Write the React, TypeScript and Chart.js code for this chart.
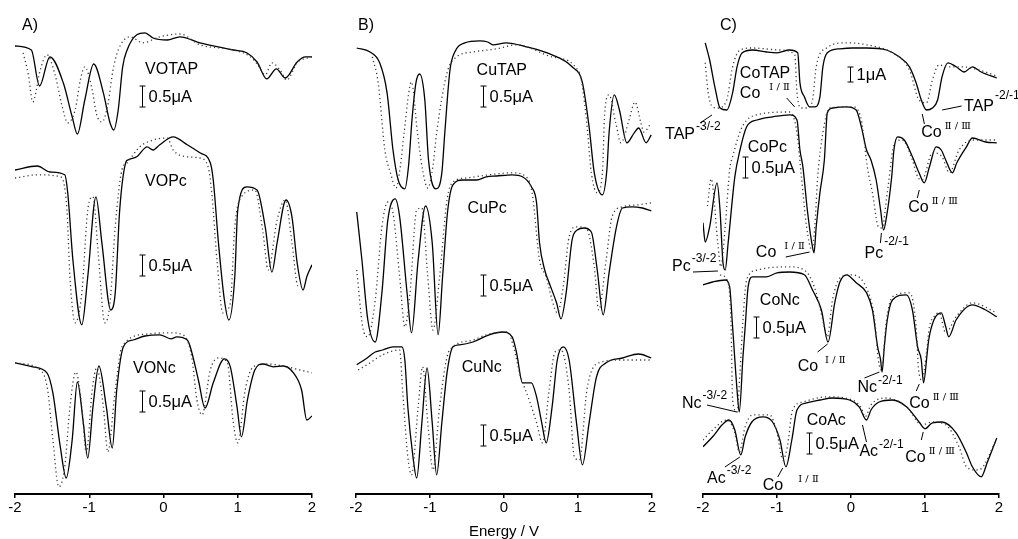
import React, { useEffect, useRef } from "react";
import { Chart, registerables } from "chart.js";

Chart.register(...registerables);

// ---------- Panel A (VO complexes) ----------
const VOTAP_E = [-2.00,-1.78,-1.67,-1.53,-1.35,-1.23,-1.16,-1.06,-0.94,-0.81,-0.72,-0.67,-0.61,-0.55,-0.49,-0.36,-0.25,-0.14,0.05,0.22,0.49,0.94,1.12,1.26,1.39,1.52,1.64,1.80,1.91,2.00];
const VOTAP_I = [11.20,11.10,10.20,10.93,10.28,9.43,9.00,9.85,10.75,10.03,9.28,9.10,9.60,10.68,11.10,11.48,11.53,11.40,11.35,11.43,11.28,11.10,11.03,10.80,10.38,10.63,10.40,10.80,10.93,10.93];
const VOTAP_E_DOT = [-1.89,-1.82,-1.76,-1.66,-1.57,-1.46,-1.37,-1.29,-1.19,-1.12,-1.06,-0.96,-0.90,-0.83,-0.75,-0.68,-0.61,-0.45,-0.28,-0.05,0.22,0.49,0.94,1.17,1.27,1.37,1.46,1.57,1.66,1.80,2.00];
const VOTAP_I_DOT = [11.03,10.48,9.80,10.60,10.98,10.48,9.73,9.28,9.60,10.35,10.68,10.10,9.48,9.30,9.73,10.60,11.10,11.43,11.28,11.43,11.50,11.23,11.10,10.93,10.73,10.48,10.78,10.60,10.35,10.78,10.93];

const VOPC_E = [-2.00,-1.70,-1.53,-1.33,-1.29,-1.22,-1.10,-1.02,-0.91,-0.83,-0.71,-0.65,-0.59,-0.51,-0.48,-0.36,-0.22,-0.14,-0.05,0.13,0.32,0.49,0.63,0.67,0.74,0.82,0.88,0.96,1.00,1.12,1.26,1.37,1.46,1.53,1.65,1.73,1.80,1.88,1.93,2.00];
const VOPC_I = [8.10,8.20,8.05,7.98,7.53,5.85,4.23,5.43,7.43,6.28,4.60,5.03,7.10,8.28,8.35,8.43,8.68,8.60,8.73,8.93,8.73,8.53,8.28,7.85,6.28,4.85,4.35,5.43,7.10,7.68,7.60,6.68,5.55,6.28,7.35,6.93,5.78,5.10,5.43,5.73];
const VOPC_E_DOT = [-2.00,-1.70,-1.39,-1.30,-1.26,-1.19,-1.10,-1.02,-0.95,-0.88,-0.79,-0.72,-0.65,-0.56,-0.49,-0.32,-0.14,0.05,0.13,0.32,0.49,0.60,0.65,0.72,0.80,0.90,0.96,1.05,1.23,1.34,1.41,1.53,1.64,1.73,1.81,1.88];
const VOPC_I_DOT = [7.90,7.98,7.93,7.10,5.43,4.28,5.03,7.10,7.43,6.03,4.28,4.78,6.68,8.10,8.28,8.68,8.85,8.90,8.60,8.43,8.40,8.18,7.53,5.85,4.53,4.78,6.68,7.43,7.60,6.53,5.60,6.85,7.35,6.28,5.20,5.18];

const VONC_E = [-2.00,-1.76,-1.57,-1.49,-1.39,-1.31,-1.23,-1.16,-1.08,-1.02,-0.95,-0.87,-0.77,-0.69,-0.63,-0.54,-0.41,-0.25,-0.05,0.10,0.18,0.32,0.36,0.47,0.56,0.67,0.82,0.90,0.99,1.05,1.13,1.23,1.34,1.48,1.61,1.75,1.86,1.93,2.00];
const VONC_I = [3.28,3.18,3.03,2.53,1.18,0.40,1.35,2.80,1.78,0.90,2.18,3.20,2.18,1.15,2.60,3.68,3.85,3.95,3.98,3.88,3.93,3.85,3.68,2.85,2.15,2.78,3.38,3.18,2.18,1.43,2.35,3.10,3.25,3.18,3.20,3.03,2.60,1.85,1.95];
const VONC_E_DOT = [-2.00,-1.66,-1.56,-1.49,-1.41,-1.33,-1.26,-1.18,-1.10,-1.04,-0.96,-0.90,-0.81,-0.75,-0.65,-0.56,-0.22,0.09,0.26,0.38,0.45,0.52,0.63,0.74,0.86,0.94,1.00,1.10,1.21,1.39,1.66,1.84,2.00];
const VONC_I_DOT = [3.28,3.10,2.60,1.35,0.18,0.68,2.18,3.05,2.18,1.03,2.60,3.15,2.18,1.05,2.60,3.68,4.00,4.03,3.98,3.43,2.35,1.98,3.10,3.40,3.28,1.78,1.28,2.60,3.18,3.25,3.18,3.10,3.03];

// ---------- Panel B (Cu complexes) ----------
const CUTAP_E = [-1.99,-1.81,-1.68,-1.58,-1.50,-1.43,-1.34,-1.29,-1.24,-1.19,-1.14,-1.07,-1.02,-0.92,-0.84,-0.80,-0.73,-0.67,-0.53,-0.33,-0.22,-0.15,0.03,0.30,0.65,0.92,1.06,1.15,1.22,1.33,1.39,1.42,1.49,1.56,1.66,1.76,1.82,1.92,1.99];
const CUTAP_I = [11.15,11.05,10.78,10.03,8.60,7.85,7.63,8.20,9.43,10.28,10.50,9.85,8.35,7.63,8.03,9.03,10.60,11.03,11.28,11.33,11.30,11.23,11.28,11.18,10.98,10.68,10.28,9.18,8.03,7.48,8.10,9.03,9.98,9.60,8.78,9.03,9.15,8.78,8.98];
const CUTAP_E_DOT = [-1.78,-1.70,-1.61,-1.53,-1.46,-1.40,-1.35,-1.25,-1.17,-1.10,-1.03,-0.96,-0.91,-0.77,-0.64,-0.42,-0.10,0.17,0.65,1.02,1.11,1.18,1.26,1.33,1.36,1.42,1.51,1.58,1.69,1.77,1.85,1.89,1.99];
const CUTAP_I_DOT = [10.93,10.28,8.60,8.00,7.65,8.20,9.03,10.30,9.03,8.10,7.65,8.20,9.03,10.53,10.93,11.05,11.13,11.23,10.93,10.53,9.43,8.03,7.53,8.03,9.50,9.98,9.28,8.78,9.35,9.80,9.28,9.05,9.28];

const CUPC_E = [-1.99,-1.92,-1.84,-1.74,-1.65,-1.57,-1.47,-1.41,-1.31,-1.25,-1.16,-1.06,-0.97,-0.89,-0.83,-0.76,-0.69,-0.56,-0.37,-0.24,-0.10,0.11,0.25,0.37,0.44,0.48,0.55,0.61,0.71,0.77,0.84,0.92,0.99,1.08,1.18,1.26,1.34,1.42,1.52,1.60,1.73,1.87,1.99];
const CUPC_I = [7.05,5.85,4.35,3.80,5.03,6.85,7.38,6.93,5.03,4.03,5.85,7.20,6.28,3.98,5.43,7.10,7.73,7.85,7.85,7.93,7.95,7.98,7.93,7.68,7.28,6.28,5.60,5.28,4.78,4.38,5.03,6.35,6.60,6.65,6.55,5.60,4.48,5.53,6.68,7.15,7.18,7.15,7.08];
const CUPC_E_DOT = [-1.99,-1.91,-1.84,-1.74,-1.65,-1.57,-1.50,-1.41,-1.34,-1.27,-1.18,-1.11,-1.03,-0.96,-0.87,-0.77,-0.69,-0.51,-0.20,0.11,0.30,0.38,0.48,0.57,0.65,0.72,0.80,0.88,0.98,1.11,1.22,1.28,1.38,1.46,1.60,1.82,1.99];
const CUPC_I_DOT = [5.60,4.18,3.93,4.85,6.68,7.30,7.03,5.43,4.18,5.03,7.10,7.15,5.43,4.10,5.43,7.35,7.80,7.90,7.98,8.03,7.93,7.53,5.85,5.43,4.85,4.53,5.18,6.43,6.68,6.65,5.68,4.60,5.85,6.93,7.18,7.23,7.28];

const CUNC_E = [-1.99,-1.85,-1.74,-1.64,-1.50,-1.38,-1.34,-1.30,-1.23,-1.18,-1.11,-1.04,-0.97,-0.91,-0.84,-0.77,-0.69,-0.60,-0.42,-0.20,-0.02,0.11,0.17,0.25,0.37,0.44,0.51,0.57,0.65,0.72,0.80,0.88,0.98,1.06,1.15,1.25,1.38,1.60,1.82,1.99];
const CUNC_I = [3.23,3.40,3.55,3.60,3.68,3.68,3.35,2.18,0.93,0.40,1.78,3.15,1.78,0.48,1.78,3.03,3.68,3.73,3.80,3.98,4.05,3.93,3.53,2.78,2.78,2.43,1.78,1.28,2.18,3.35,3.68,3.35,1.78,0.73,1.78,2.93,3.28,3.40,3.50,3.40];
const CUNC_E_DOT = [-1.97,-1.81,-1.64,-1.41,-1.37,-1.30,-1.25,-1.16,-1.10,-1.03,-0.96,-0.87,-0.77,-0.69,-0.42,-0.20,0.05,0.14,0.21,0.34,0.44,0.52,0.61,0.69,0.77,0.88,0.95,1.02,1.12,1.28,1.60,1.99];
const CUNC_I_DOT = [3.10,3.28,3.48,3.60,2.60,0.93,0.48,2.18,3.18,1.78,0.60,2.18,3.43,3.68,3.85,4.00,4.05,3.60,3.03,2.35,1.78,1.28,2.60,3.55,3.60,2.60,0.93,0.85,2.60,3.28,3.35,3.35];

// ---------- Panel C (Co complexes) ----------
const COTAP_E = [-1.97,-1.91,-1.84,-1.77,-1.68,-1.60,-1.54,-1.47,-1.33,-1.14,-1.00,-0.83,-0.72,-0.69,-0.63,-0.56,-0.49,-0.42,-0.38,-0.32,-0.15,0.02,0.21,0.48,0.65,0.79,0.88,0.95,1.02,1.10,1.17,1.23,1.31,1.42,1.53,1.64,1.76,1.97];
const COTAP_I = [11.28,10.85,10.18,9.65,9.60,10.03,10.68,11.03,11.10,11.05,11.03,11.10,11.03,10.28,9.93,9.68,9.68,9.93,10.68,11.03,11.13,11.15,11.15,11.10,10.93,10.68,10.28,9.85,9.60,9.65,9.85,10.43,10.78,10.68,10.55,10.68,10.55,10.40];
const COTAP_E_DOT = [-1.97,-1.93,-1.87,-1.80,-1.68,-1.60,-1.50,-1.33,-0.96,-0.76,-0.73,-0.67,-0.59,-0.52,-0.47,-0.33,-0.06,0.21,0.56,0.79,0.92,1.02,1.10,1.19,1.28,1.50,1.73,1.97];
const COTAP_I_DOT = [10.78,10.03,9.68,9.65,9.85,10.68,11.10,11.15,11.10,10.98,10.03,9.65,9.65,9.85,10.68,11.15,11.28,11.23,11.03,10.60,9.85,9.78,10.35,10.73,10.68,10.68,10.60,10.45];

const COPC_E = [-2.00,-1.97,-1.91,-1.81,-1.77,-1.73,-1.70,-1.66,-1.57,-1.50,-1.41,-1.27,-1.06,-0.83,-0.73,-0.69,-0.65,-0.59,-0.53,-0.50,-0.47,-0.42,-0.36,-0.32,-0.25,-0.06,0.07,0.14,0.21,0.27,0.34,0.40,0.44,0.48,0.55,0.58,0.63,0.72,0.83,0.92,0.99,1.06,1.15,1.22,1.28,1.37,1.43,1.56,1.64,1.82,1.97];
const COPC_I = [6.78,6.30,6.68,7.78,7.10,5.78,5.60,6.28,7.93,8.60,9.18,9.35,9.43,9.48,9.35,8.60,8.18,7.10,6.28,6.03,6.68,7.53,8.35,9.53,9.65,9.68,9.60,9.18,8.60,8.35,7.85,7.10,6.60,6.93,7.93,8.60,8.93,8.85,8.43,8.03,7.78,8.18,8.68,8.60,8.35,8.03,8.28,8.68,8.90,8.80,8.78];
const COPC_E_DOT = [-1.94,-1.89,-1.80,-1.76,-1.70,-1.64,-1.60,-1.47,-1.27,-0.83,-0.73,-0.67,-0.60,-0.53,-0.49,-0.45,-0.38,-0.29,0.02,0.14,0.22,0.29,0.37,0.42,0.49,0.59,0.69,0.83,0.90,0.96,1.10,1.23,1.33,1.46,1.64,1.97];
const COPC_I_DOT = [7.20,7.88,6.28,5.68,6.68,8.10,8.43,9.18,9.48,9.55,9.03,7.93,6.68,6.10,6.68,7.93,9.03,9.65,9.68,9.35,8.18,7.53,6.68,6.65,7.53,8.78,8.85,8.35,7.93,7.85,8.53,8.43,8.03,8.60,8.85,8.85];

const CONC_E = [-2.00,-1.87,-1.70,-1.64,-1.60,-1.54,-1.51,-1.46,-1.43,-1.39,-1.33,-1.14,-1.00,-0.83,-0.63,-0.52,-0.40,-0.31,-0.22,-0.15,-0.06,0.07,0.21,0.29,0.36,0.40,0.42,0.45,0.49,0.56,0.75,0.83,0.90,0.95,0.98,1.03,1.05,1.12,1.22,1.28,1.32,1.42,1.64,1.82,1.97];
const CONC_I = [5.23,5.30,5.35,5.18,4.18,2.60,2.05,3.43,4.18,5.18,5.43,5.43,5.53,5.55,5.48,5.10,4.60,3.80,4.78,5.30,5.48,5.28,5.03,4.60,3.68,3.35,3.05,3.68,4.35,4.85,4.98,4.60,3.68,3.35,2.78,3.53,3.85,4.35,4.53,4.18,3.93,4.35,4.73,4.60,4.43];
const CONC_E_DOT = [-1.77,-1.66,-1.62,-1.60,-1.54,-1.50,-1.46,-1.41,-1.27,-0.83,-0.60,-0.47,-0.36,-0.32,-0.25,-0.15,-0.02,0.21,0.32,0.37,0.41,0.48,0.56,0.79,0.88,0.91,0.96,1.02,1.06,1.12,1.19,1.28,1.42,1.64,1.97];
const CONC_I_DOT = [5.48,5.28,4.18,2.35,2.05,3.03,4.35,5.35,5.60,5.68,5.55,5.03,4.18,3.93,4.85,5.40,5.48,5.15,4.35,3.35,3.10,4.35,4.93,5.03,4.18,3.18,2.85,3.53,4.18,4.43,4.53,4.03,4.43,4.78,4.53];

const COAC_E = [-2.00,-1.87,-1.74,-1.65,-1.57,-1.49,-1.43,-1.34,-1.19,-1.06,-0.96,-0.88,-0.80,-0.73,-0.60,-0.42,-0.25,-0.02,0.11,0.21,0.27,0.38,0.56,0.75,0.92,1.00,1.10,1.23,1.42,1.56,1.64,1.76,1.84,1.97];
const COAC_I = [1.18,1.43,1.73,1.85,1.60,0.98,1.43,1.80,1.93,1.80,1.35,0.68,1.35,2.10,2.28,2.35,2.40,2.35,2.18,1.85,2.10,2.30,2.35,2.18,1.80,1.63,1.78,1.80,1.53,1.03,0.68,0.43,0.78,1.40];
const COAC_E_DOT = [-2.00,-1.87,-1.68,-1.57,-1.51,-1.43,-1.33,-1.10,-1.00,-0.92,-0.86,-0.79,-0.65,-0.33,0.02,0.14,0.19,0.27,0.48,0.75,0.96,1.10,1.28,1.46,1.56,1.69,1.77,1.96];
const COAC_I_DOT = [1.35,1.60,1.85,1.53,1.05,1.68,1.98,1.98,1.53,0.85,1.18,2.10,2.30,2.43,2.35,2.15,1.93,2.23,2.40,2.18,1.73,1.80,1.73,1.18,0.68,0.60,0.65,1.35];

const X_TICKS = [-2, -1, 0, 1, 2];

// ---------- annotation layout ----------
const SANS = '"Liberation Sans", Arial, Helvetica, sans-serif';
const ROMAN = '"DejaVu Serif", "Liberation Serif", serif';
const R12 = "\u2160 / \u2161";
const R23 = "\u2161 / \u2162";

type Txt = { x: number; y: number; t: string; sup?: string; roman?: boolean; gap?: number; dy?: number };
type Bar = { x: number; y1: number; y2: number; label: string };
type Seg = [number, number, number, number];
type Series = [number[], number[], boolean];
interface Panel {
  left: number; width: number; padL: number; padR: number;
  series: Series[]; texts: Txt[]; bars: Bar[]; lines: Seg[]; xTitle?: string;
}

const PANELS: Panel[] = [
  {
    left: 0, width: 340, padL: 15, padR: 28,
    series: [
      [VOTAP_E_DOT, VOTAP_I_DOT, true], [VOTAP_E, VOTAP_I, false],
      [VOPC_E_DOT, VOPC_I_DOT, true], [VOPC_E, VOPC_I, false],
      [VONC_E_DOT, VONC_I_DOT, true], [VONC_E, VONC_I, false],
    ],
    texts: [
      { x: -1.906, y: 11.70, t: "A)" },
      { x: -0.249, y: 10.60, t: "VOTAP" },
      { x: -0.249, y: 7.80, t: "VOPc" },
      { x: -0.411, y: 3.125, t: "VONc" },
    ],
    bars: [
      { x: -0.29, y1: 10.20, y2: 9.675, label: "0.5\u03bcA" },
      { x: -0.29, y1: 5.975, y2: 5.45, label: "0.5\u03bcA" },
      { x: -0.29, y1: 2.575, y2: 2.05, label: "0.5\u03bcA" },
    ],
    lines: [],
  },
  {
    left: 340, width: 340, padL: 16, padR: 28, xTitle: "Energy / V",
    series: [
      [CUTAP_E_DOT, CUTAP_I_DOT, true], [CUTAP_E, CUTAP_I, false],
      [CUPC_E_DOT, CUPC_I_DOT, true], [CUPC_E, CUPC_I, false],
      [CUNC_E_DOT, CUNC_I_DOT, true], [CUNC_E, CUNC_I, false],
    ],
    texts: [
      { x: -1.973, y: 11.70, t: "B)" },
      { x: -0.370, y: 10.575, t: "CuTAP" },
      { x: -0.492, y: 7.125, t: "CuPc" },
      { x: -0.572, y: 3.15, t: "CuNc" },
    ],
    bars: [
      { x: -0.29, y1: 10.20, y2: 9.675, label: "0.5\u03bcA" },
      { x: -0.29, y1: 5.475, y2: 4.95, label: "0.5\u03bcA" },
      { x: -0.29, y1: 1.725, y2: 1.20, label: "0.5\u03bcA" },
    ],
    lines: [],
  },
  {
    left: 655, width: 363, padL: 48, padR: 19,
    series: [
      [COTAP_E_DOT, COTAP_I_DOT, true], [COTAP_E, COTAP_I, false],
      [COPC_E_DOT, COPC_I_DOT, true], [COPC_E, COPC_I, false],
      [CONC_E_DOT, CONC_I_DOT, true], [CONC_E, CONC_I, false],
      [COAC_E_DOT, COAC_I_DOT, true], [COAC_E, COAC_I, false],
    ],
    texts: [
      { x: -1.771, y: 11.70, t: "C)" },
      { x: -1.502, y: 10.50, t: "CoTAP" },
      { x: -1.502, y: 10.00, t: "Co", sup: R12, roman: true, gap: 9 },
      { x: 1.528, y: 9.675, t: "TAP", sup: "-2/-1", dy: -11 },
      { x: 0.950, y: 9.025, t: "Co", sup: R23, roman: true },
      { x: -2.512, y: 8.975, t: "TAP", sup: "-3/-2" },
      { x: -1.394, y: 8.65, t: "CoPc" },
      { x: 0.774, y: 7.15, t: "Co", sup: R23, roman: true },
      { x: 0.182, y: 6.00, t: "Pc", sup: "-2/-1", dy: -12 },
      { x: -1.286, y: 6.025, t: "Co", sup: R12, roman: true, gap: 8 },
      { x: -2.418, y: 5.675, t: "Pc", sup: "-3/-2" },
      { x: -1.232, y: 4.825, t: "CoNc" },
      { x: -0.721, y: 3.175, t: "Co", sup: R12, roman: true, gap: 7 },
      { x: 0.088, y: 2.65, t: "Nc", sup: "-2/-1", dy: -7 },
      { x: 0.788, y: 2.25, t: "Co", sup: R23, roman: true },
      { x: -2.283, y: 2.25, t: "Nc", sup: "-3/-2" },
      { x: -0.599, y: 1.825, t: "CoAc" },
      { x: 0.114, y: 1.05, t: "Ac", sup: "-2/-1", dy: -7 },
      { x: 0.734, y: 0.90, t: "Co", sup: R23, roman: true },
      { x: -1.946, y: 0.375, t: "Ac", sup: "-3/-2" },
      { x: -1.192, y: 0.20, t: "Co", sup: R12, roman: true, gap: 15 },
    ],
    bars: [
      { x: -0.007, y1: 10.675, y2: 10.30, label: "1\u03bcA" },
      { x: -1.434, y1: 8.425, y2: 7.90, label: "0.5\u03bcA" },
      { x: -1.286, y1: 4.425, y2: 3.90, label: "0.5\u03bcA" },
      { x: -0.572, y1: 1.525, y2: 1.00, label: "0.5\u03bcA" },
    ],
    lines: [
      [-0.869, 9.90, -0.761, 9.675],
      [1.232, 9.60, 1.495, 9.70],
      [0.963, 9.50, 0.992, 9.25],
      [-2.040, 9.275, -1.879, 9.475],
      [0.923, 7.60, 0.896, 7.40],
      [0.411, 6.525, 0.397, 6.275],
      [-0.882, 5.925, -0.559, 6.05],
      [-2.135, 5.55, -1.798, 5.575],
      [-0.451, 3.55, -0.316, 3.75],
      [0.182, 2.90, 0.384, 3.05],
      [0.882, 2.575, 0.923, 2.75],
      [-1.946, 2.225, -1.542, 2.05],
      [0.209, 1.30, 0.155, 1.725],
      [0.950, 1.35, 0.976, 1.55],
      [-1.704, 0.675, -1.502, 0.925],
      [-0.990, 0.425, -0.923, 0.65],
    ],
  },
];

const H = 539;
const AXIS_H = 45;
const Y_MAX = 12.35;

function makeAnnot(p: Panel) {
  return {
    id: "annot",
    afterDraw(chart: any) {
      const ctx = chart.ctx as CanvasRenderingContext2D;
      const xs = chart.scales.x;
      const ys = chart.scales.y;
      ctx.save();
      ctx.fillStyle = "#000";
      ctx.strokeStyle = "#000";
      ctx.textBaseline = "middle";
      ctx.textAlign = "left";
      for (const a of p.texts) {
        const px = xs.getPixelForValue(a.x);
        const py = ys.getPixelForValue(a.y);
        ctx.font = `16px ${SANS}`;
        ctx.fillText(a.t, px, py);
        if (a.sup) {
          const w = ctx.measureText(a.t).width;
          ctx.font = a.roman ? `10px ${ROMAN}` : `12px ${SANS}`;
          const gap = a.gap ?? (a.roman ? 3 : 1);
          const dy = a.dy ?? (a.roman ? -7 : -8);
          ctx.fillText(a.sup, px + w + gap, py + dy);
        }
      }
      ctx.lineWidth = 1;
      for (const b of p.bars) {
        const px = Math.round(xs.getPixelForValue(b.x)) + 0.5;
        const y1 = ys.getPixelForValue(b.y1);
        const y2 = ys.getPixelForValue(b.y2);
        ctx.beginPath();
        ctx.moveTo(px, y1); ctx.lineTo(px, y2);
        ctx.moveTo(px - 3, y1); ctx.lineTo(px + 3, y1);
        ctx.moveTo(px - 3, y2); ctx.lineTo(px + 3, y2);
        ctx.stroke();
        ctx.font = `16.5px ${SANS}`;
        ctx.fillText(b.label, px + 6, (y1 + y2) / 2 + 1);
      }
      for (const [x1, y1, x2, y2] of p.lines) {
        ctx.beginPath();
        ctx.moveTo(xs.getPixelForValue(x1), ys.getPixelForValue(y1));
        ctx.lineTo(xs.getPixelForValue(x2), ys.getPixelForValue(y2));
        ctx.stroke();
      }
      ctx.restore();
    },
  };
}

function PanelChart({ p }: { p: Panel }) {
  const ref = useRef<HTMLCanvasElement | null>(null);
  useEffect(() => {
    if (!ref.current) return;
    const datasets = p.series.map(([E, I, dotted]) => ({
      data: E.map((x, i) => ({ x, y: I[i] })),
      borderColor: dotted ? "#3a3a3a" : "#000",
      borderWidth: dotted ? 1.3 : 1.3,
      borderDash: dotted ? [1.2, 3] : [],
      pointRadius: 0,
      fill: false,
      cubicInterpolationMode: "monotone" as const,
    }));
    const chart = new Chart(ref.current, {
      type: "line",
      data: { datasets },
      options: {
        animation: false,
        responsive: false,
        maintainAspectRatio: false,
        events: [],
        layout: { padding: { left: p.padL, right: p.padR, top: 0, bottom: 0 } },
        plugins: { legend: { display: false }, tooltip: { enabled: false } },
        scales: {
          x: {
            type: "linear",
            min: -2,
            max: 2,
            afterBuildTicks: (s: any) => { s.ticks = X_TICKS.map((v) => ({ value: v })); },
            afterFit: (s: any) => { s.height = AXIS_H; },
            ticks: { color: "#000", font: { family: SANS, size: 15 }, padding: 1, maxRotation: 0, autoSkip: false },
            grid: { drawOnChartArea: false, drawTicks: true, tickLength: 4, color: "#000", lineWidth: 1.5 },
            border: { display: true, color: "#000", width: 2 },
            title: p.xTitle
              ? { display: true, text: p.xTitle, color: "#000", font: { family: SANS, size: 15 }, padding: { top: 0, bottom: -2 } }
              : { display: false },
          },
          y: { type: "linear", display: false, min: 0, max: Y_MAX },
        },
      },
      plugins: [makeAnnot(p)],
    } as any);
    return () => chart.destroy();
  }, [p]);
  return (
    <canvas
      ref={ref}
      width={p.width}
      height={H}
      style={{ position: "absolute", left: p.left, top: 0, width: p.width, height: H }}
    />
  );
}

export default function App() {
  return (
    <div style={{ position: "absolute", left: 0, top: 0, width: 1018, height: H, background: "#fff", overflow: "hidden" }}>
      {PANELS.map((p, i) => (
        <PanelChart key={i} p={p} />
      ))}
    </div>
  );
}
